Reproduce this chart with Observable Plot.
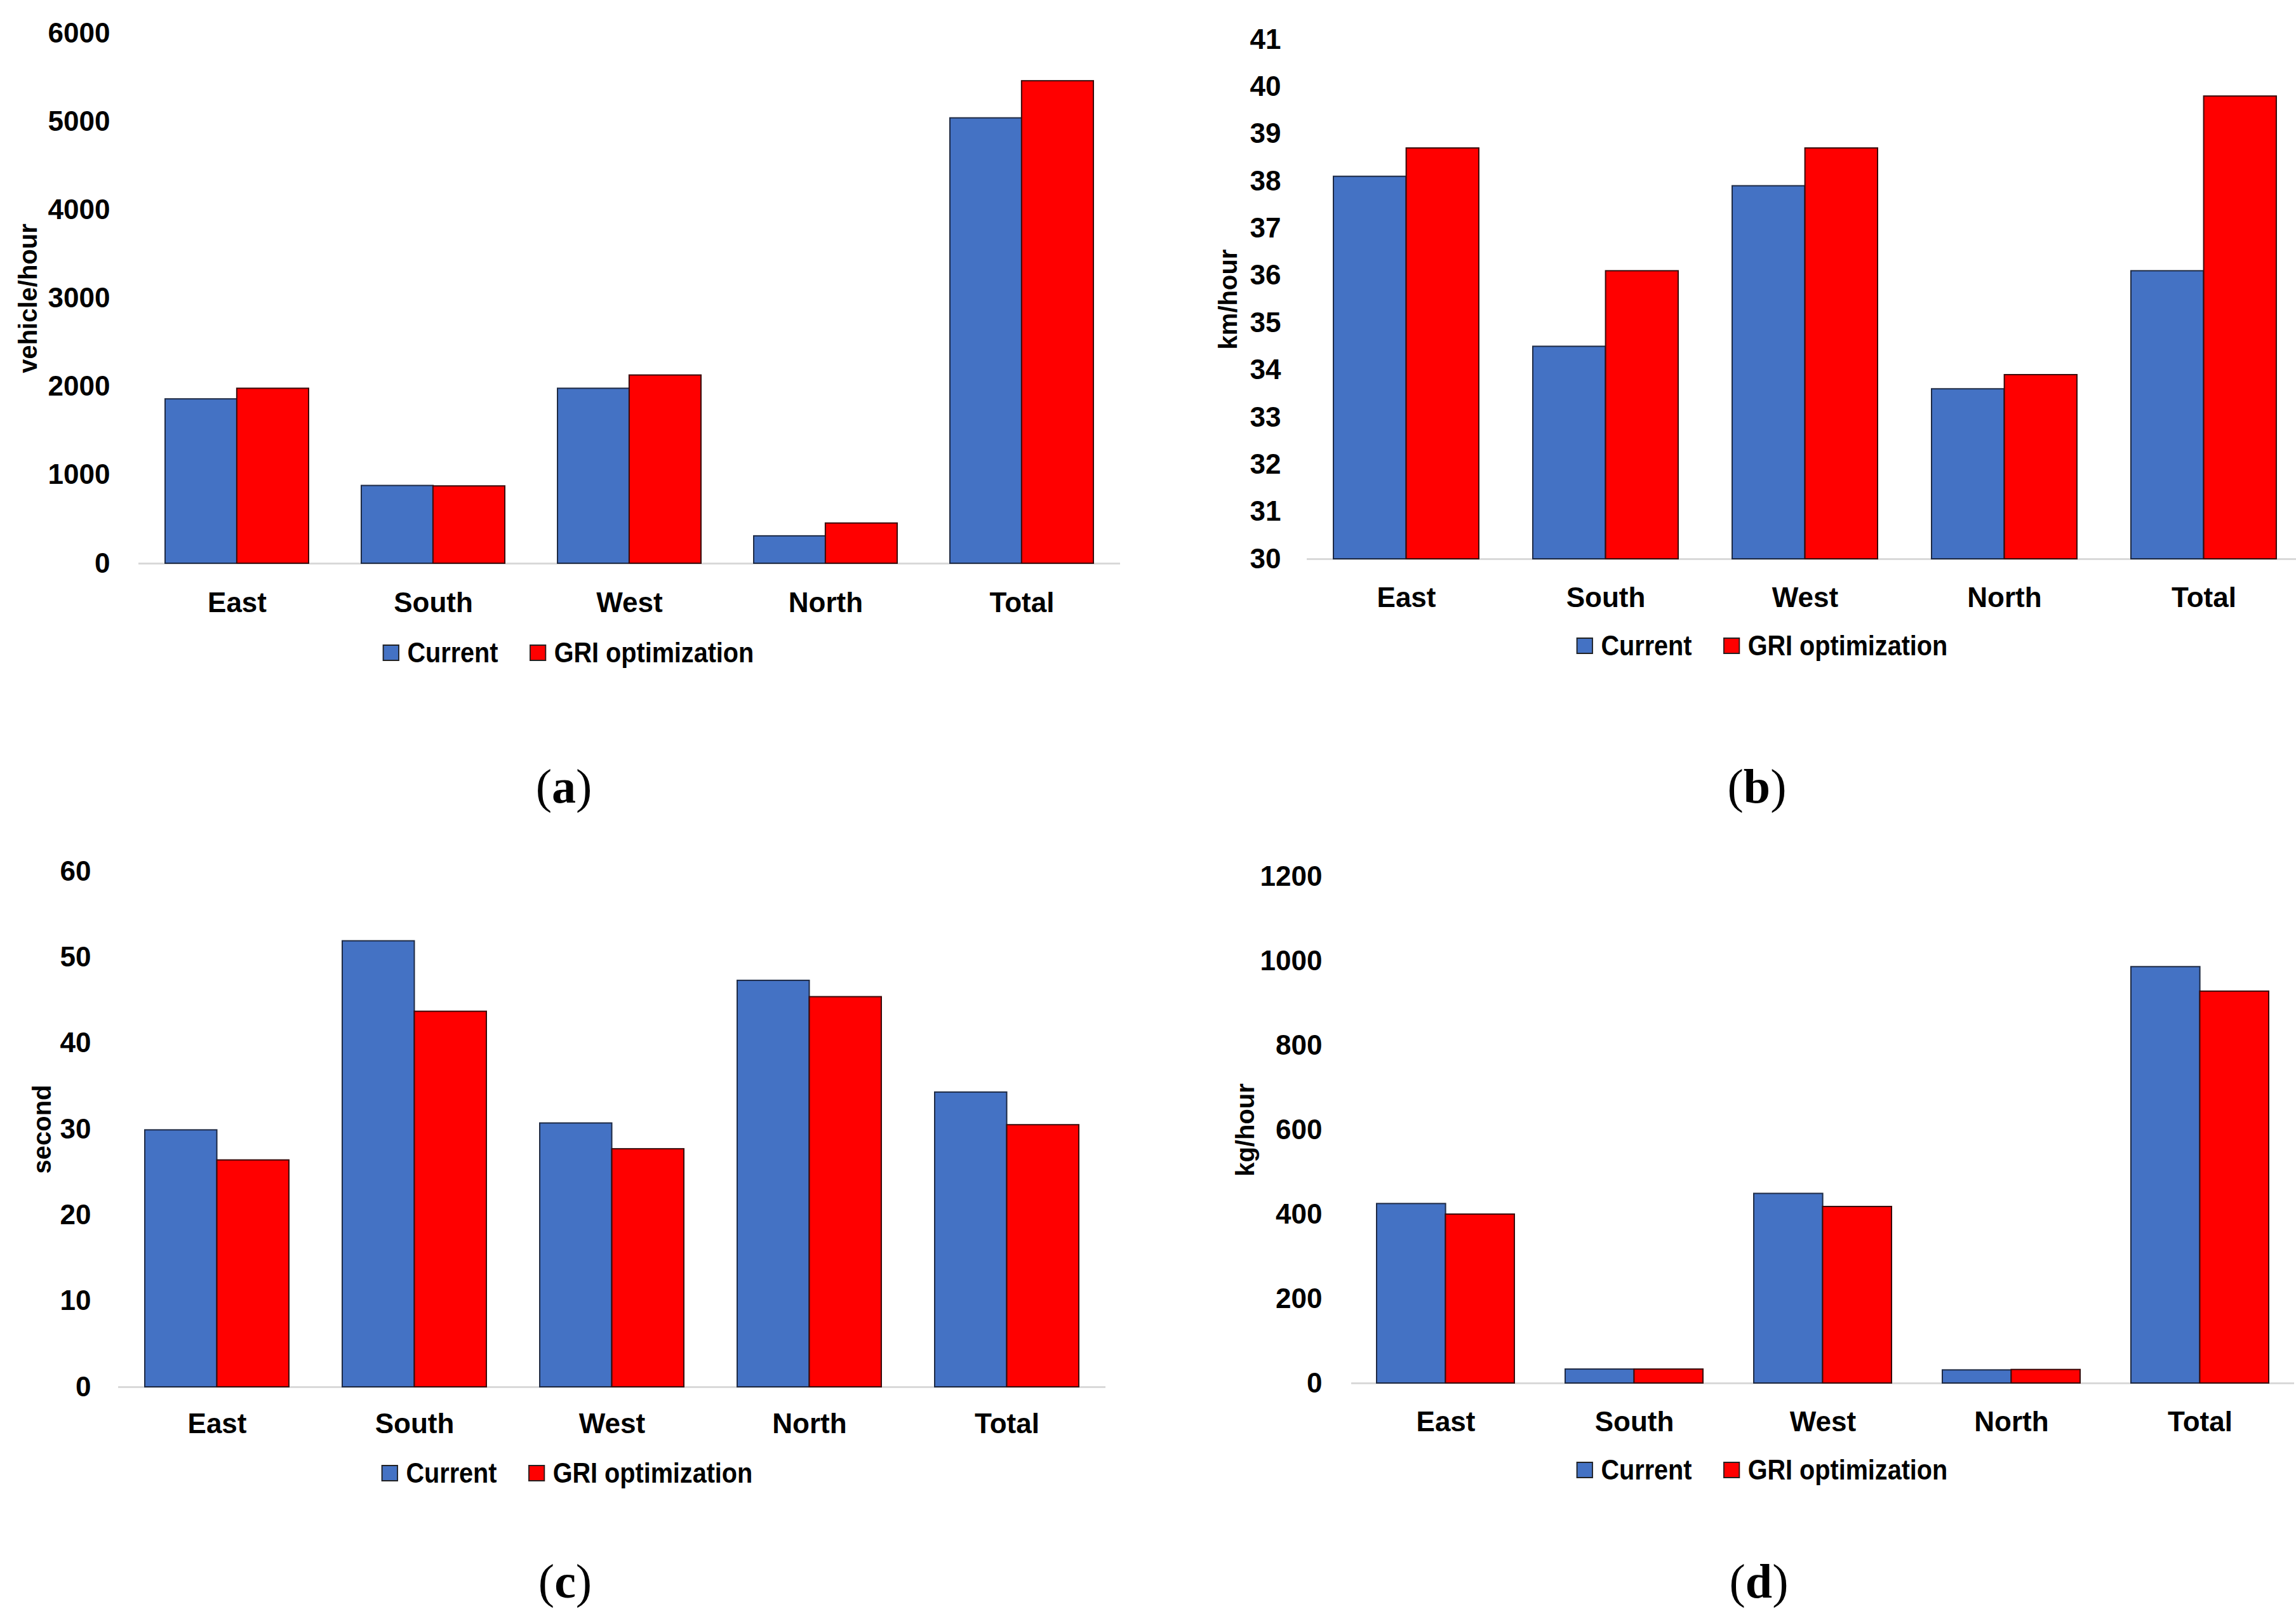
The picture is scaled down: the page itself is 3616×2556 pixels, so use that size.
<!DOCTYPE html>
<html><head><meta charset="utf-8">
<script src="https://cdn.jsdelivr.net/npm/d3@7"></script>
<script src="https://cdn.jsdelivr.net/npm/@observablehq/plot@0.6"></script>
<style>
html,body{margin:0;padding:0;background:#fff;}
#page{position:relative;width:3616px;height:2556px;overflow:hidden;background:#fff;}
.panel{position:absolute;}
.panel svg{max-width:none !important;}
.legend{position:absolute;display:flex;align-items:center;transform:translate(-50%,-50%) scaleX(0.9);white-space:nowrap;font-family:"Liberation Sans",Arial,sans-serif;font-weight:bold;font-size:44px;color:#000;}
.sw{display:inline-block;width:29px;height:26px;box-sizing:border-box;border:2px solid #222;margin-right:14px;}
.item{display:flex;align-items:center;}
.item + .item{margin-left:55px;}
.caption{position:absolute;transform:translate(-50%,-50%);font-family:"Liberation Serif","DejaVu Serif",serif;font-size:76px;color:#000;white-space:nowrap;}
</style></head><body><div id="page"></div>
<script>
// ---- data ----
const categories = ["East", "South", "West", "North", "Total"];
const seriesNames = ["Current", "GRI optimization"];
const seriesColors = ["#4472C4", "#FF0000"];

const flowCurrent = [1860, 880, 1980, 310, 5040];
const flowGRI = [1980, 875, 2130, 455, 5460];
const flowTicks = [0, 1000, 2000, 3000, 4000, 5000, 6000];

const speedCurrent = [38.1, 34.5, 37.9, 33.6, 36.1];
const speedGRI = [38.7, 36.1, 38.7, 33.9, 39.8];
const speedTicks = [30, 31, 32, 33, 34, 35, 36, 37, 38, 39, 40, 41];

const delayCurrent = [29.9, 51.9, 30.7, 47.3, 34.3];
const delayGRI = [26.4, 43.7, 27.7, 45.4, 30.5];
const delayTicks = [0, 10, 20, 30, 40, 50, 60];

const emissionCurrent = [425, 33, 449, 31, 986];
const emissionGRI = [400, 33, 418, 32, 928];
const emissionTicks = [0, 200, 400, 600, 800, 1000, 1200];

const yTitles = ["vehicle/hour", "km/hour", "second", "kg/hour"];
const captionLetters = ["a", "b", "c", "d"];

// ---- layout ----
const panels = [
  {current: flowCurrent, gri: flowGRI, ticks: flowTicks, title: yTitles[0], letter: captionLetters[0],
   left: 0, top: 0, width: 1800, height: 1000, ml: 218, mr: 36, mt: 52, mb: 113,
   ytp: 45, xtp: 45, titleX: 45, legX: 895, legY: 1028, capX: 888, capY: 1238},
  {current: speedCurrent, gri: speedGRI, ticks: speedTicks, title: yTitles[1], letter: captionLetters[1],
   left: 1800, top: 0, width: 1840, height: 1000, ml: 258, mr: 12, mt: 62, mb: 120,
   ytp: 41, xtp: 44, titleX: 1935, legX: 2775, legY: 1017, capX: 2767, capY: 1238},
  {current: delayCurrent, gri: delayGRI, ticks: delayTicks, title: yTitles[2], letter: captionLetters[2],
   left: 0, top: 1300, width: 1800, height: 1000, ml: 186, mr: 59, mt: 72, mb: 116,
   ytp: 43, xtp: 41, titleX: 67, legX: 893, legY: 2320, capX: 890, capY: 2490},
  {current: emissionCurrent, gri: emissionGRI, ticks: emissionTicks, title: yTitles[3], letter: captionLetters[3],
   left: 1800, top: 1300, width: 1816, height: 1000, ml: 328, mr: 3, mt: 80, mb: 122,
   ytp: 46, xtp: 44, titleX: 1962, legX: 2775, legY: 2315, capX: 2770, capY: 2490}
];

const page = document.getElementById("page");
const sans = '"Liberation Sans", Arial, sans-serif';
const padIn = 0.27, padOut = 0.135;

for (const p of panels) {
  const rows = categories.map((c, i) => ({category: c, current: p.current[i], gri: p.gri[i]}));
  const n = categories.length;
  const frameW = p.width - p.ml - p.mr;
  const step = frameW / (n - padIn + 2 * padOut);
  const bw = step * (1 - padIn);
  const y0 = p.ticks[0];
  const chart = Plot.plot({
    width: p.width, height: p.height,
    marginLeft: p.ml, marginRight: p.mr, marginTop: p.mt, marginBottom: p.mb,
    x: {type: "band", domain: categories, paddingInner: padIn, paddingOuter: padOut, axis: null},
    y: {domain: [y0, p.ticks[p.ticks.length - 1]], axis: null},
    style: {fontFamily: sans, fontWeight: "bold", fontSize: "44px", color: "#000", background: "transparent", overflow: "visible", maxWidth: "none"},
    marks: [
      Plot.ruleY([y0], {stroke: "#d9d9d9", strokeWidth: 3}),
      Plot.barY(rows, {x: "category", y1: y0, y2: "current", fill: seriesColors[0], stroke: "#1e2a44", strokeWidth: 2, insetRight: bw / 2}),
      Plot.barY(rows, {x: "category", y1: y0, y2: "gri", fill: seriesColors[1], stroke: "#3a0a0a", strokeWidth: 2, insetLeft: bw / 2}),
      Plot.axisY(p.ticks, {tickSize: 0, tickPadding: p.ytp, tickFormat: d => String(d), label: null, fontSize: 44}),
      Plot.axisX({tickSize: 0, tickPadding: p.xtp, label: null, fontSize: 44}),
      Plot.text([p.title], {text: d => d, frameAnchor: "left", textAnchor: "middle", lineAnchor: "middle", rotate: -90,
        dx: p.titleX - p.left - p.ml, fontSize: 40, fontWeight: "bold", fontFamily: sans, fill: "#000"})
    ]
  });
  const holder = document.createElement("div");
  holder.className = "panel";
  holder.style.left = p.left + "px";
  holder.style.top = p.top + "px";
  holder.style.width = p.width + "px";
  holder.appendChild(chart);
  page.appendChild(holder);

  const leg = document.createElement("div");
  leg.className = "legend";
  leg.style.left = p.legX + "px";
  leg.style.top = p.legY + "px";
  seriesNames.forEach((name, i) => {
    const item = document.createElement("div");
    item.className = "item";
    const sw = document.createElement("span");
    sw.className = "sw";
    sw.style.background = seriesColors[i];
    const t = document.createElement("span");
    t.textContent = name;
    item.appendChild(sw); item.appendChild(t);
    leg.appendChild(item);
  });
  page.appendChild(leg);

  const cap = document.createElement("div");
  cap.className = "caption";
  cap.style.left = p.capX + "px";
  cap.style.top = p.capY + "px";
  cap.innerHTML = "(<b>" + p.letter + "</b>)";
  page.appendChild(cap);
}
</script>
</body></html>
